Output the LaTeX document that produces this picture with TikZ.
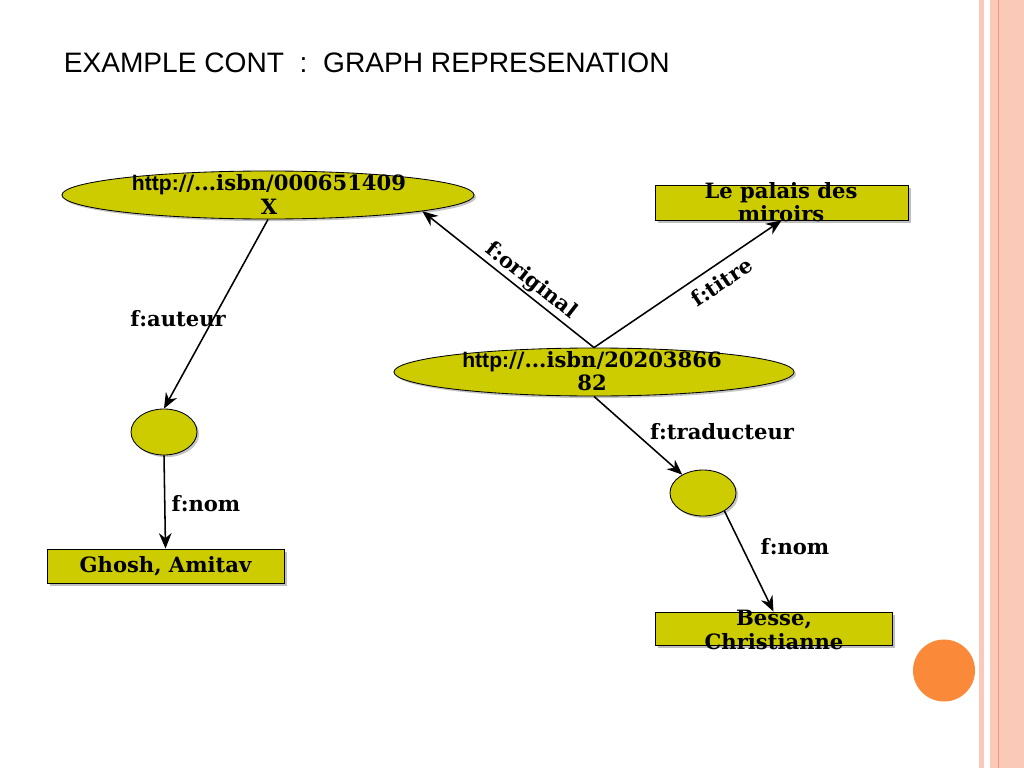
\documentclass[tikz,border=0pt]{standalone}
\usepackage{fontspec}
\setmainfont{DejaVu Serif}
\setsansfont{Liberation Sans}
\usetikzlibrary{positioning, arrows.meta, shapes.geometric, shadows}
\definecolor{rdfyellow}{HTML}{CCCC00}
\definecolor{slidepink}{HTML}{FBC9B7}
\definecolor{slideline}{HTML}{E39C7E}
\definecolor{slideorange}{HTML}{FA8A3A}

\begin{document}
\begin{tikzpicture}[x=0.025cm, y=-0.025cm, line width=1.1pt,
    lbl/.style={font=\fontsize{15}{16.5}\selectfont\bfseries, inner sep=0pt, align=center},
    res/.style={ellipse, draw=black, line width=0.6pt, fill=rdfyellow, inner sep=0pt,
      drop shadow={shadow xshift=1.5pt, shadow yshift=-1.5pt, fill=black!45}},
    lit/.style={rectangle, draw=black, line width=0.6pt, fill=rdfyellow, inner sep=0pt,
      drop shadow={shadow xshift=2pt, shadow yshift=-2pt, fill=black!50}},
    rel/.style={-{Stealth[length=11pt, width=9pt]}, line width=1.1pt}]
    \useasboundingbox[fill=white] (0,0) rectangle (1024,768);
    % slide border on the right
    \fill[slidepink] (979,0) rectangle (983.5,768);
    \fill[slidepink] (990,0) rectangle (1024,768);
    \fill[slideline] (997.7,0) rectangle (999,768);
    \fill[slideorange] (944,670.5) circle[radius=31];
    \node[font=\sffamily\fontsize{20}{24}\selectfont, anchor=base west, inner sep=0pt] (title) at (63,73)
      {EXAMPLE CONT\ \ :\ \ GRAPH REPRESENATION};

    % resources
    \node[res, minimum width=10.3cm, minimum height=1.2cm] (isbnA) at (268,195) {};
    \node[lbl] (isbnAtxt) at (269,194.5) {{\sffamily http:}//...isbn/000651409\\X};
    \node[res, minimum width=10cm, minimum height=1.2cm] (isbnB) at (594,372) {};
    \node[lbl] (isbnBtxt) at (592,371.5) {{\sffamily http:}//...isbn/20203866\\82};
    \node[res, minimum width=1.65cm, minimum height=1.15cm] (blankA) at (164,432) {};
    \node[res, minimum width=1.65cm, minimum height=1.15cm] (blankB) at (703,493) {};

    % literals
    \node[lit, minimum width=6.325cm, minimum height=0.875cm] (titre) at (781.5,202.5) {};
    \node[lbl] (titretxt) at (781,202.5) {Le palais des\\miroirs};
    \node[lit, minimum width=5.925cm, minimum height=0.85cm, lbl] (ghosh) at (165.5,566) {Ghosh, Amitav};
    \node[lit, minimum width=5.925cm, minimum height=0.825cm] (besse) at (773.5,628.5) {};
    \node[lbl] (bessetxt) at (774,630) {Besse,\\Christianne};

    % properties
    \draw[rel] (isbnA.south) -- (blankA.north);
    \draw[rel] (blankA.south) -- (ghosh.north);
    \draw[rel] (isbnB.north) -- (isbnA.-6);
    \draw[rel] (isbnB.north) -- (titre.south);
    \draw[rel] (isbnB.south) -- (blankB);
    \draw[rel] (blankB.-40) -- (besse.north);

    \node[lbl] (auteur) at (178,319) {f:auteur};
    \node[lbl] (nomA) at (206,504) {f:nom};
    \node[lbl, rotate=-38] (original) at (531,281) {f:original};
    \node[lbl, rotate=34] (titrelbl) at (722,282) {f:titre};
    \node[lbl] (traducteur) at (722,432) {f:traducteur};
    \node[lbl] (nomB) at (795,547) {f:nom};
\end{tikzpicture}
\end{document}
